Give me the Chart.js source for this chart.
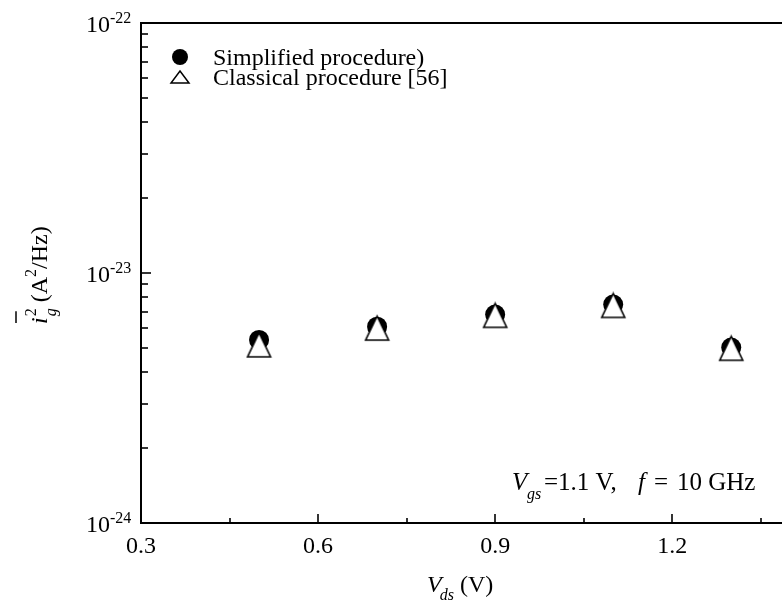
<!DOCTYPE html>
<html>
<head>
<meta charset="utf-8">
<script src="https://cdn.jsdelivr.net/npm/chart.js@4/dist/chart.umd.min.js"></script>
<style>
html,body{margin:0;padding:0;background:#fff;}
#wrap{width:782px;height:606px;position:relative;}
</style>
</head>
<body>
<div id="wrap"><canvas id="c" width="782" height="606"></canvas></div>
<script>
// ---- data ----
const vds = [0.5, 0.7, 0.9, 1.1, 1.3];
const simplified = [5.40e-24, 6.10e-24, 6.82e-24, 7.48e-24, 5.03e-24];
const classical = [5.16e-24, 6.02e-24, 6.77e-24, 7.42e-24, 5.00e-24];
const xTicks = [0.3, 0.45, 0.6, 0.75, 0.9, 1.05, 1.2, 1.35];
const xLabels = ['0.3', '', '0.6', '', '0.9', '', '1.2', ''];
const yDecades = [-24, -23, -22];
const seriesNames = ['Simplified procedure)', 'Classical procedure [56]'];

const SERIF = '"Liberation Serif", "Times New Roman", serif';

const yTickVals = [];
for (let d = -24; d < -22; d++) for (let m = 1; m <= 9; m++) yTickVals.push(m * Math.pow(10, d));
yTickVals.push(1e-22);

// open triangle marker image
function triangleMarker(w, h, lw) {
  const c = document.createElement('canvas');
  c.width = w + 4; c.height = h + 4;
  const g = c.getContext('2d');
  g.lineWidth = lw; g.strokeStyle = '#000'; g.fillStyle = '#fff';
  g.beginPath();
  g.moveTo(c.width / 2, 2); g.lineTo(c.width - 2, h + 2); g.lineTo(2, h + 2); g.closePath();
  g.fill(); g.stroke();
  return c;
}
const triImg = triangleMarker(23, 24, 1.6);

const decor = {
  id: 'decor',
  afterDraw(chart) {
    const ctx = chart.ctx, ca = chart.chartArea;
    const xs = chart.scales.x, ys = chart.scales.y;
    ctx.save();
    ctx.strokeStyle = '#000';
    ctx.fillStyle = '#000';
    ctx.lineWidth = 2;
    ctx.beginPath(); ctx.moveTo(ca.left, ca.top); ctx.lineTo(chart.width, ca.top); ctx.stroke();
    ctx.lineWidth = 1.6;
    xTicks.forEach((v, i) => {
      const px = Math.round(xs.getPixelForValue(v));
      const len = xLabels[i] ? 9 : 5;
      ctx.beginPath(); ctx.moveTo(px, ca.bottom); ctx.lineTo(px, ca.bottom - len); ctx.stroke();
    });
    yTickVals.forEach(v => {
      const py = Math.round(ys.getPixelForValue(v));
      const major = Math.abs(Math.log10(v) - Math.round(Math.log10(v))) < 1e-6;
      const len = major ? 10 : 7;
      ctx.beginPath(); ctx.moveTo(ca.left, py); ctx.lineTo(ca.left + len, py); ctx.stroke();
    });
    ctx.font = '24px ' + SERIF;
    ctx.textAlign = 'center'; ctx.textBaseline = 'alphabetic';
    xTicks.forEach((v, i) => {
      if (!xLabels[i]) return;
      ctx.fillText(xLabels[i], xs.getPixelForValue(v), ca.bottom + 30);
    });
    yDecades.forEach(d => {
      const py = ys.getPixelForValue(Math.pow(10, d));
      ctx.font = '24px ' + SERIF; ctx.textAlign = 'right';
      ctx.fillText('10', 110, py + 9);
      ctx.font = '16px ' + SERIF; ctx.textAlign = 'left';
      ctx.fillText('-' + Math.abs(d), 110, py);
    });
    // x title
    ctx.textAlign = 'left';
    let x = 427;
    ctx.font = 'italic 24px ' + SERIF; ctx.fillText('V', x, 592); x += ctx.measureText('V').width;
    ctx.font = 'italic 16px ' + SERIF; ctx.fillText('ds', x - 2, 600); x += ctx.measureText('ds').width - 2;
    ctx.font = '24px ' + SERIF; ctx.fillText(' (V)', x, 592);
    // annotation
    const by = 490;
    ctx.font = 'italic 25px ' + SERIF; ctx.fillText('V', 512, by);
    ctx.font = 'italic 16px ' + SERIF; ctx.fillText('gs', 527, by + 9);
    ctx.font = '25px ' + SERIF; ctx.fillText('=1.1 V,', 544, by);
    ctx.font = 'italic 25px ' + SERIF; ctx.fillText('f', 638, by);
    ctx.font = '25px ' + SERIF; ctx.fillText('=', 654, by);
    ctx.fillText('10 GHz', 677, by);
    // y title (rotated)
    ctx.save();
    ctx.translate(47, 324);
    ctx.rotate(-Math.PI / 2);
    let t = 0;
    ctx.font = 'italic 24px ' + SERIF; ctx.fillText('i', t, 0);
    const iw = ctx.measureText('i').width;
    ctx.lineWidth = 1.5;
    ctx.beginPath(); ctx.moveTo(t + 1, -31); ctx.lineTo(t + iw + 6, -31); ctx.stroke();
    t += iw + 1;
    ctx.font = 'italic 16px ' + SERIF; ctx.fillText('g', t, 9);
    ctx.font = '16px ' + SERIF; ctx.fillText('2', t, -11);
    t += ctx.measureText('2').width + 6;
    ctx.font = '24px ' + SERIF; ctx.fillText('(A', t, 0); t += ctx.measureText('(A').width;
    ctx.font = '16px ' + SERIF; ctx.fillText('2', t, -11); t += ctx.measureText('2').width;
    ctx.font = '24px ' + SERIF; ctx.fillText('/Hz)', t, 0);
    ctx.restore();
    // legend
    ctx.beginPath(); ctx.arc(180, 57, 8, 0, Math.PI * 2); ctx.fill();
    ctx.lineWidth = 1.5;
    ctx.beginPath(); ctx.moveTo(180, 71); ctx.lineTo(189, 83); ctx.lineTo(171, 83); ctx.closePath();
    ctx.fillStyle = '#fff'; ctx.fill(); ctx.stroke();
    ctx.fillStyle = '#000';
    ctx.font = '24px ' + SERIF; ctx.textAlign = 'left';
    ctx.fillText(seriesNames[0], 213, 65);
    ctx.fillText(seriesNames[1], 213, 85);
    ctx.restore();
  }
};

new Chart(document.getElementById('c'), {
  type: 'scatter',
  data: {
    datasets: [
      {
        label: seriesNames[1],
        data: vds.map((v, i) => ({x: v, y: classical[i]})),
        pointStyle: triImg, pointRadius: 14, pointHoverRadius: 14,
        backgroundColor: '#fff', borderColor: '#000', borderWidth: 1.5,
        showLine: false, order: 0
      },
      {
        label: seriesNames[0],
        data: vds.map((v, i) => ({x: v, y: simplified[i]})),
        pointStyle: 'circle', pointRadius: 10, pointHoverRadius: 10,
        backgroundColor: '#000', borderColor: '#000', borderWidth: 0,
        showLine: false, order: 1
      }
    ]
  },
  options: {
    responsive: false,
    animation: false,
    events: [],
    layout: {autoPadding: false, padding: {top: 23, right: 0, left: 0, bottom: 0}},
    plugins: {legend: {display: false}, tooltip: {enabled: false}},
    scales: {
      x: {
        type: 'linear', min: 0.3, max: 1.386,
        afterBuildTicks: s => { s.ticks = xTicks.map(v => ({value: v})); },
        afterFit: s => { s.height = 83; },
        ticks: {display: false},
        grid: {display: false, drawTicks: false},
        border: {display: true, color: '#000', width: 2}
      },
      y: {
        type: 'logarithmic', min: 1e-24, max: 1e-22,
        afterBuildTicks: s => { s.ticks = yTickVals.map(v => ({value: v})); },
        afterFit: s => { s.width = 141; },
        ticks: {display: false},
        grid: {display: false, drawTicks: false},
        border: {display: true, color: '#000', width: 2}
      }
    }
  },
  plugins: [decor]
});
</script>
</body>
</html>
